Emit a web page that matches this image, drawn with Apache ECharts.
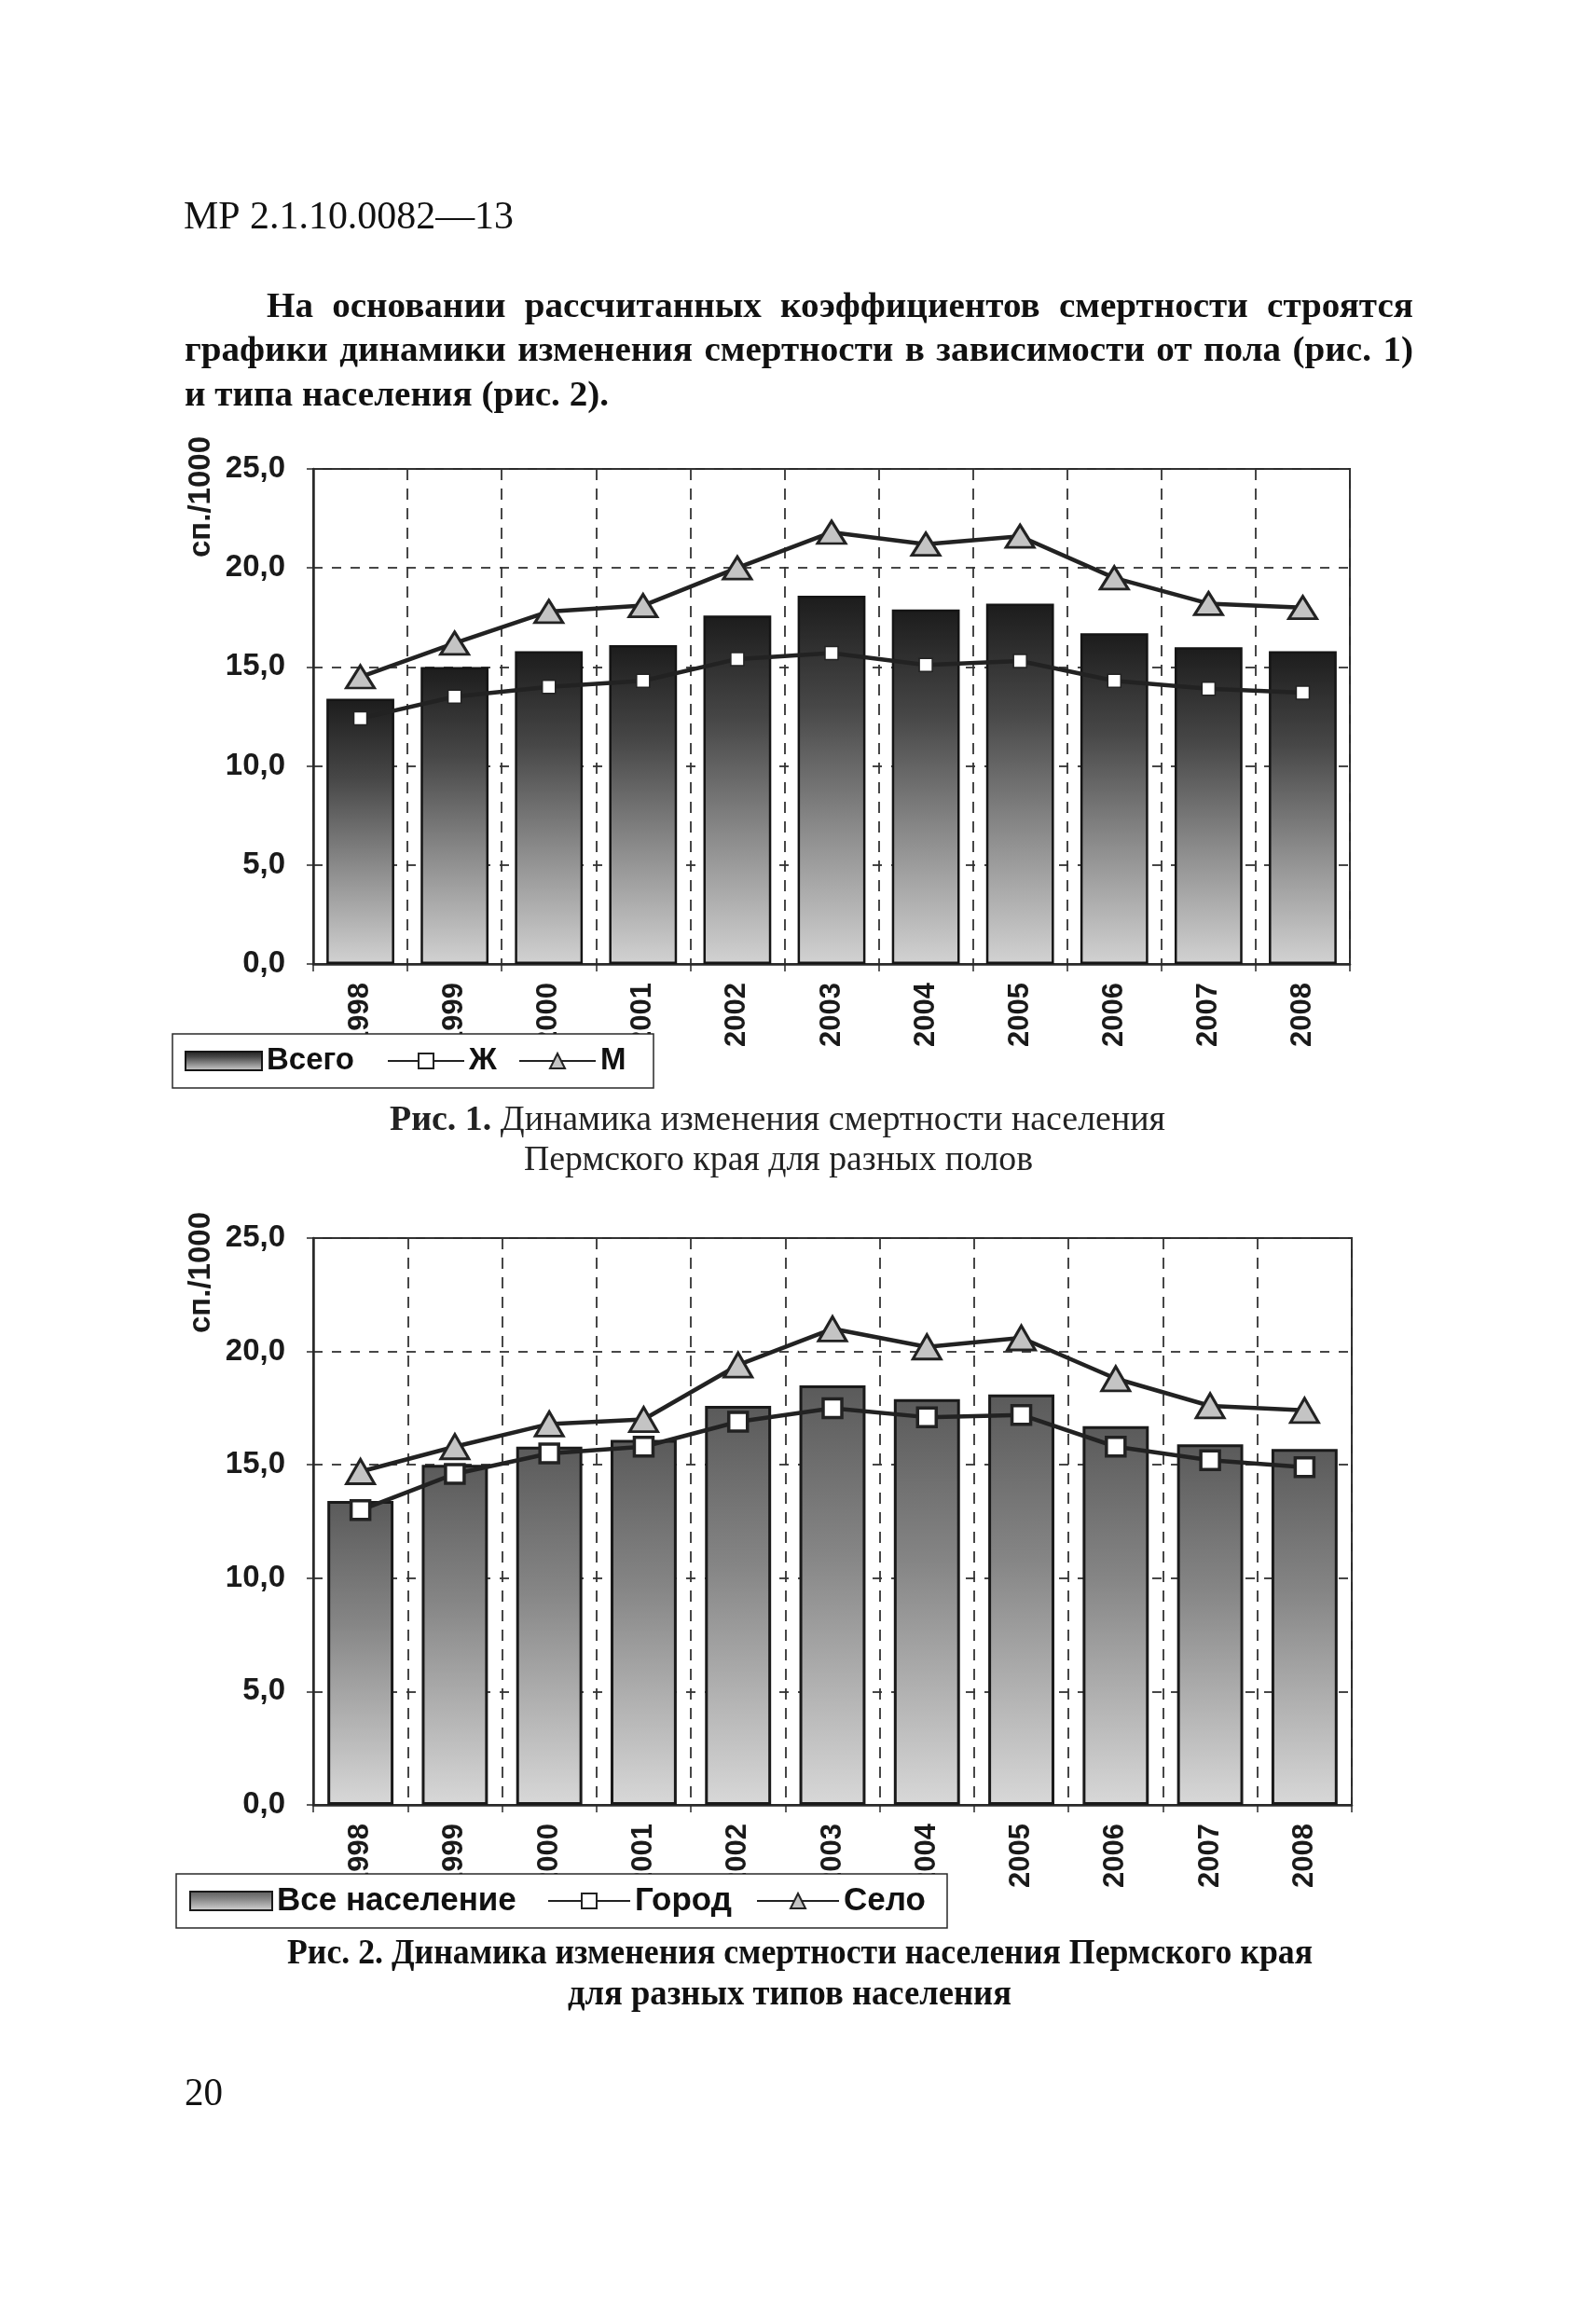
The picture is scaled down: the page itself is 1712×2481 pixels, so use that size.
<!DOCTYPE html>
<html><head><meta charset="utf-8">
<script src="https://cdn.jsdelivr.net/npm/echarts@6/dist/echarts.min.js"></script>
<style>html,body{margin:0;padding:0;background:#fff}#c{width:1712px;height:2481px}</style>
</head><body><div id="c"></div>
<script>
// ---------- DATA ----------
const years = ['1998','1999','2000','2001','2002','2003','2004','2005','2006','2007','2008'];
const yTickLabels = ['0,0','5,0','10,0','15,0','20,0','25,0'];
// Рис. 1
const fig1Total  = [13.4,15.0,15.8,16.1,17.6,18.6,17.9,18.2,16.7,16.0,15.8];
const fig1Female = [12.4,13.5,14.0,14.3,15.4,15.7,15.1,15.3,14.3,13.9,13.7];
const fig1Male   = [14.5,16.2,17.8,18.1,20.0,21.8,21.2,21.6,19.5,18.2,18.0];
// Рис. 2
const fig2Total  = [13.4,15.0,15.8,16.1,17.6,18.5,17.9,18.1,16.7,15.9,15.7];
const fig2Urban  = [13.0,14.6,15.5,15.8,16.9,17.5,17.1,17.2,15.8,15.2,14.9];
const fig2Rural  = [14.7,15.8,16.8,17.0,19.4,21.0,20.2,20.6,18.8,17.6,17.4];
// texts
const headerText = 'МР 2.1.10.0082—13';
const paraLines = [
  'На основании рассчитанных коэффициентов смертности строятся',
  'графики динамики изменения смертности в зависимости от пола (рис. 1)',
  'и типа населения (рис. 2).'
];
const yTitle = 'сп./1000';
const cap1Bold = 'Рис. 1.';
const cap1Rest = 'Динамика изменения смертности населения';
const cap1Line2 = 'Пермского края для разных полов';
const cap2Line1 = 'Рис. 2. Динамика изменения смертности населения Пермского края';
const cap2Line2 = 'для разных типов населения';
const pageNo = '20';

// ---------- helpers ----------
const SERIF = '"Liberation Serif","Times New Roman",serif';
const SANS = '"Liberation Sans",Arial,sans-serif';
const mctx = document.createElement('canvas').getContext('2d');
function mw(t, font){ mctx.font = font; return mctx.measureText(t).width; }
function fontOf(b, size){ return (b ? 'bold ' : '') + size + 'px ' + SERIF; }

// words: [{t, b}] ; mode 'fit' or 'justify'
function placeLine(words, x0, x1, baseline, size, mode, sxFixed, fill){
  const fonts = words.map(w => fontOf(w.b, size));
  const widths = words.map((w,i) => mw(w.t, fonts[i]));
  const space = mw(' ', fonts[0]);
  const target = x1 - x0;
  const sumW = widths.reduce((a,b)=>a+b,0);
  let sx, gap;
  if (mode === 'justify' && words.length > 1) {
    sx = sxFixed;
    gap = (target - sx*sumW)/(words.length-1);
    if (gap < 0.6*space*sx) { sx = target/(sumW + space*(words.length-1)); gap = space*sx; }
  } else {
    sx = target/(sumW + space*(words.length-1));
    gap = space*sx;
  }
  const els = [];
  let x = x0;
  words.forEach((w,i) => {
    els.push({type:'text', x:x, y: baseline - 0.34*size, scaleX: sx, silent:true, z:20,
      style:{text:w.t, font:fonts[i], fill: fill || '#111', align:'left', verticalAlign:'middle'}});
    x += widths[i]*sx + gap;
  });
  return {els, sx};
}
function words(str, b){ return str.split(' ').map(t => ({t, b})); }

const graphics = [];
// header
graphics.push(...placeLine(words(headerText,false), 197, 551, 248, 43, 'fit').els);
// paragraph
const pSize = 37;
const l3 = placeLine(words(paraLines[2], true), 198, 653, 438, pSize, 'fit');
const l1 = placeLine(words(paraLines[0], true), 286, 1516, 343, pSize, 'justify', l3.sx);
const l2 = placeLine(words(paraLines[1], true), 198, 1516, 390, pSize, 'justify', l3.sx);
graphics.push(...l1.els, ...l2.els, ...l3.els);
// captions
graphics.push(...placeLine(words(cap1Bold,true).concat(words(cap1Rest,false)), 418, 1250, 1215, 37, 'fit', null, '#222').els);
graphics.push(...placeLine(words(cap1Line2,false), 562, 1108, 1258, 37, 'fit', null, '#222').els);
graphics.push(...placeLine(words(cap2Line1,true), 308, 1408, 2109, 37, 'fit').els);
graphics.push(...placeLine(words(cap2Line2,true), 609, 1085, 2153, 37, 'fit').els);
graphics.push(...placeLine(words(pageNo,false), 198, 239, 2261, 42, 'fit').els);
// y-axis titles (rotated)
[[216, 533],[216, 1365]].forEach(p => {
  graphics.push({type:'text', x:p[0], y:p[1], rotation: Math.PI/2, silent:true, z:20,
    style:{text: yTitle, font:'bold 33px ' + SANS, fill:'#1a1a1a', align:'center', verticalAlign:'middle'}});
});

// ---------- chart ----------
const chart = echarts.init(document.getElementById('c'), null, {renderer:'canvas', width:1712, height:2481});

function xAxisCfg(gi){
  return {type:'category', gridIndex:gi, data: years, boundaryGap:true,
    axisLine:{show:true, lineStyle:{color:'#2a2a2a', width:2.5}},
    axisTick:{show:true, length:8, interval:0, lineStyle:{color:'#2a2a2a', width:1.5}},
    axisLabel:{interval:0, rotate:90, margin:20, fontFamily:SANS, fontWeight:'bold', fontSize:31, color:'#1a1a1a'},
    splitLine:{show:true, interval:0, lineStyle:{color:'#333', type:[12,9], width:1.8}}
  };
}
function yAxisCfg(gi){
  return {type:'value', gridIndex:gi, min:0, max:25, interval:5,
    axisLine:{show:true, lineStyle:{color:'#2a2a2a', width:2.5}},
    axisTick:{show:true, length:7, lineStyle:{color:'#2a2a2a', width:1.5}},
    axisLabel:{formatter:(v,i)=>yTickLabels[i], margin:30, fontFamily:SANS, fontWeight:'bold', fontSize:33, color:'#1a1a1a'},
    splitLine:{show:true, lineStyle:{color:'#333', type:[10,10], width:1.8}}
  };
}
const grad1 = {type:'linear', x:0, y:0, x2:0, y2:1, colorStops:[
  {offset:0, color:'#1c1c1c'},{offset:0.3, color:'#474747'},{offset:0.65, color:'#8e8e8e'},{offset:1, color:'#d2d2d2'}]};
const grad2 = {type:'linear', x:0, y:0, x2:0, y2:1, colorStops:[
  {offset:0, color:'#5a5a5a'},{offset:0.4, color:'#858585'},{offset:1, color:'#d8d8d8'}]};

const option = {
  backgroundColor:'#fff',
  animation:false,
  grid:[
    {left:336, top:503, width:1112, height:531, show:true, borderColor:'#2a2a2a', borderWidth:2, backgroundColor:'rgba(0,0,0,0)', outerBoundsMode:'none'},
    {left:336, top:1328, width:1114, height:608, show:true, borderColor:'#2a2a2a', borderWidth:2, backgroundColor:'rgba(0,0,0,0)', outerBoundsMode:'none'}
  ],
  xAxis:[xAxisCfg(0), xAxisCfg(1)],
  yAxis:[yAxisCfg(0), yAxisCfg(1)],
  legend:[
    {left:185, top:1109, orient:'horizontal', selectedMode:false, z:10,
     padding:[10,12,10,13], itemWidth:82, itemHeight:20, itemGap:18,
     backgroundColor:'#fff', borderColor:'#2a2a2a', borderWidth:1.5, borderRadius:0,
     textStyle:{fontFamily:SANS, fontWeight:'bold', fontSize:33, color:'#111', lineHeight:38},
     data:[{name:'Всего', icon:'rect', textStyle:{width:111}}, {name:'Ж', textStyle:{width:35}}, {name:'М', textStyle:{width:45}}]},
    {left:189, top:2010, orient:'horizontal', selectedMode:false, z:10,
     padding:[10,12,10,14], itemWidth:88, itemHeight:20, itemGap:6,
     backgroundColor:'#fff', borderColor:'#2a2a2a', borderWidth:1.5, borderRadius:0,
     textStyle:{fontFamily:SANS, fontWeight:'bold', fontSize:35, color:'#111', lineHeight:38},
     data:[{name:'Все население', icon:'rect', textStyle:{width:284}}, {name:'Город', textStyle:{width:124}}, {name:'Село', textStyle:{width:99}}]}
  ],
  graphic: graphics,
  series:[
    {name:'Всего', type:'bar', xAxisIndex:0, yAxisIndex:0, data:fig1Total, barCategoryGap:'28%',
     itemStyle:{color:grad1, borderColor:'#151515', borderWidth:2.5}, z:2},
    {name:'Ж', type:'line', xAxisIndex:0, yAxisIndex:0, data:fig1Female, symbol:'rect', symbolSize:14,
     lineStyle:{color:'#222', width:4.5}, itemStyle:{color:'#fff', borderColor:'#222', borderWidth:1.5}, z:3},
    {name:'М', type:'line', xAxisIndex:0, yAxisIndex:0, data:fig1Male, symbol:'triangle', symbolSize:[30,24],
     lineStyle:{color:'#222', width:4.5}, itemStyle:{color:'#c4c4c4', borderColor:'#222', borderWidth:3}, z:3},
    {name:'Все население', type:'bar', xAxisIndex:1, yAxisIndex:1, data:fig2Total, barCategoryGap:'30%',
     itemStyle:{color:grad2, borderColor:'#1a1a1a', borderWidth:3}, z:2},
    {name:'Город', type:'line', xAxisIndex:1, yAxisIndex:1, data:fig2Urban, symbol:'rect', symbolSize:20,
     lineStyle:{color:'#222', width:4.5}, itemStyle:{color:'#fff', borderColor:'#222', borderWidth:3.5}, z:3},
    {name:'Село', type:'line', xAxisIndex:1, yAxisIndex:1, data:fig2Rural, symbol:'triangle', symbolSize:[30,26],
     lineStyle:{color:'#222', width:4.5}, itemStyle:{color:'#c4c4c4', borderColor:'#222', borderWidth:3}, z:3}
  ]
};
chart.setOption(option);
</script>
</body></html>
